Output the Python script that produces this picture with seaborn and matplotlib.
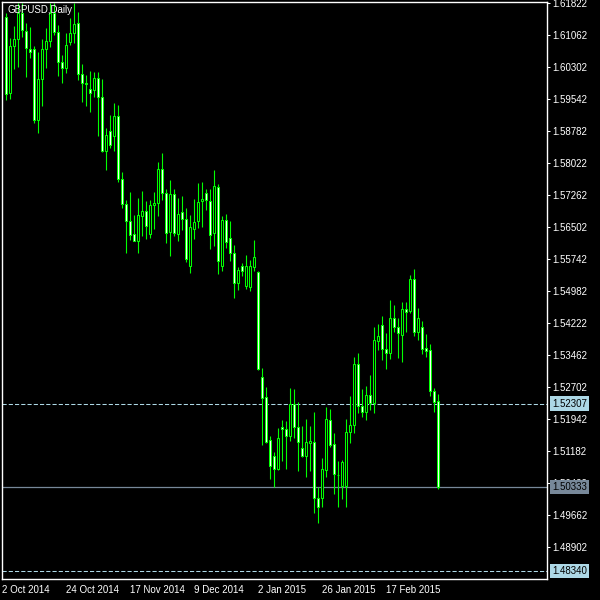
import numpy as np
import pandas as pd
import matplotlib
matplotlib.use("Agg")
import matplotlib.pyplot as plt
import seaborn as sns

# GBPUSD daily bars (one entry per bar)
opens = [1.6149, 1.5968, 1.6081, 1.6097, 1.6158, 1.6117, 1.6073, 1.6073, 1.5905, 1.6002,
         1.6073, 1.6092, 1.6158, 1.6115, 1.6042, 1.6028, 1.6091, 1.6111, 1.6135, 1.6014,
         1.5992, 1.5978, 1.5976, 1.6004, 1.5959, 1.5832, 1.5880, 1.5867, 1.5914, 1.5764,
         1.5705, 1.5665, 1.5634, 1.5618, 1.5678, 1.5690, 1.5634, 1.5703, 1.5707, 1.5789,
         1.5732, 1.5640, 1.5729, 1.5634, 1.5686, 1.5671, 1.5558, 1.5646, 1.5665, 1.5713,
         1.5731, 1.5713, 1.5636, 1.5745, 1.5559, 1.5667, 1.5624, 1.5588, 1.5519, 1.5558,
         1.5511, 1.5509, 1.5557, 1.5545, 1.5294, 1.5246, 1.5145, 1.5107, 1.5075, 1.5175,
         1.5170, 1.5155, 1.5230, 1.5177, 1.5125, 1.5108, 1.5139, 1.5140, 1.5007, 1.5007,
         1.5074, 1.5193, 1.5135, 1.5063, 1.5035, 1.5035, 1.5163, 1.5180, 1.5325, 1.5226,
         1.5212, 1.5251, 1.5234, 1.5381, 1.5417, 1.5360, 1.5351, 1.5434, 1.5413, 1.5394,
         1.5456, 1.5452, 1.5527, 1.5402, 1.5414, 1.5363, 1.5359, 1.5262, 1.5238]
highs = [1.6158, 1.6099, 1.6128, 1.6182, 1.6182, 1.6135, 1.6125, 1.6081, 1.6067, 1.6097,
         1.6123, 1.6182, 1.6182, 1.6131, 1.6059, 1.6111, 1.6147, 1.6182, 1.6162, 1.6038,
         1.6012, 1.6022, 1.6020, 1.6020, 1.6002, 1.5885, 1.5917, 1.5945, 1.5941, 1.5781,
         1.5715, 1.5735, 1.5679, 1.5720, 1.5736, 1.5713, 1.5715, 1.5734, 1.5806, 1.5827,
         1.5740, 1.5763, 1.5741, 1.5720, 1.5725, 1.5697, 1.5679, 1.5717, 1.5755, 1.5757,
         1.5742, 1.5742, 1.5786, 1.5753, 1.5677, 1.5682, 1.5665, 1.5608, 1.5556, 1.5566,
         1.5584, 1.5572, 1.5620, 1.5547, 1.5317, 1.5272, 1.5155, 1.5116, 1.5173, 1.5193,
         1.5190, 1.5268, 1.5265, 1.5235, 1.5178, 1.5196, 1.5178, 1.5212, 1.5033, 1.5102,
         1.5223, 1.5219, 1.5161, 1.5095, 1.5098, 1.5196, 1.5249, 1.5341, 1.5351, 1.5265,
         1.5273, 1.5299, 1.5413, 1.5420, 1.5440, 1.5399, 1.5477, 1.5466, 1.5434, 1.5473,
         1.5473, 1.5537, 1.5551, 1.5458, 1.5428, 1.5397, 1.5372, 1.5269, 1.5254]
lows = [1.5952, 1.5954, 1.6025, 1.6032, 1.6103, 1.6008, 1.6052, 1.5897, 1.5873, 1.5938,
        1.6028, 1.6079, 1.6107, 1.6010, 1.5994, 1.6016, 1.6083, 1.6087, 1.6000, 1.5948,
        1.5938, 1.5925, 1.5960, 1.5867, 1.5830, 1.5786, 1.5839, 1.5832, 1.5758, 1.5696,
        1.5590, 1.5620, 1.5617, 1.5588, 1.5630, 1.5622, 1.5625, 1.5646, 1.5677, 1.5715,
        1.5612, 1.5583, 1.5630, 1.5617, 1.5644, 1.5567, 1.5541, 1.5622, 1.5649, 1.5650,
        1.5691, 1.5599, 1.5606, 1.5539, 1.5546, 1.5601, 1.5570, 1.5483, 1.5501, 1.5534,
        1.5503, 1.5499, 1.5546, 1.5312, 1.5133, 1.5137, 1.5052, 1.5033, 1.5074, 1.5096,
        1.5075, 1.5143, 1.5149, 1.5072, 1.5104, 1.5056, 1.5072, 1.4971, 1.4949, 1.4987,
        1.5058, 1.5129, 1.5016, 1.4987, 1.5004, 1.4987, 1.5137, 1.5162, 1.5208, 1.5199,
        1.5193, 1.5216, 1.5208, 1.5359, 1.5335, 1.5314, 1.5337, 1.5402, 1.5340, 1.5331,
        1.5402, 1.5446, 1.5392, 1.5382, 1.5349, 1.5343, 1.5250, 1.5212, 1.5029]
closes = [1.5966, 1.6081, 1.6097, 1.6158, 1.6119, 1.6075, 1.6067, 1.5905, 1.6002, 1.6073,
          1.6092, 1.6158, 1.6115, 1.6042, 1.6028, 1.6083, 1.6111, 1.6133, 1.6014, 1.5992,
          1.5991, 1.5970, 1.6004, 1.5959, 1.5832, 1.5869, 1.5846, 1.5914, 1.5764, 1.5705,
          1.5666, 1.5632, 1.5618, 1.5679, 1.5690, 1.5654, 1.5703, 1.5707, 1.5789, 1.5732,
          1.5637, 1.5729, 1.5636, 1.5681, 1.5671, 1.5575, 1.5650, 1.5662, 1.5710, 1.5717,
          1.5715, 1.5631, 1.5748, 1.5571, 1.5667, 1.5616, 1.5588, 1.5519, 1.5548, 1.5547,
          1.5558, 1.5558, 1.5579, 1.5313, 1.5244, 1.5140, 1.5084, 1.5075, 1.5149, 1.5170,
          1.5155, 1.5230, 1.5177, 1.5141, 1.5107, 1.5140, 1.5143, 1.5007, 1.4987, 1.5075,
          1.5194, 1.5133, 1.5064, 1.5062, 1.5092, 1.5163, 1.5181, 1.5325, 1.5225, 1.5212,
          1.5251, 1.5234, 1.5382, 1.5392, 1.5360, 1.5351, 1.5434, 1.5413, 1.5398, 1.5456,
          1.5450, 1.5527, 1.5402, 1.5435, 1.5361, 1.5357, 1.5262, 1.5236, 1.50333]

date_labels = ["2 Oct 2014", "24 Oct 2014", "17 Nov 2014", "9 Dec 2014",
               "2 Jan 2015", "26 Jan 2015", "17 Feb 2015"]
date_bars = [0, 16, 32, 48, 64, 80, 96]

price_levels = [1.61822 - 0.0076 * k for k in range(18)]
dashed_levels = [1.52307, 1.48340]
bid_level = 1.50333

df = pd.DataFrame({"open": opens, "high": highs, "low": lows, "close": closes})
df["bar"] = np.arange(len(df))
df["bottom"] = df[["open", "close"]].min(axis=1)
df["height"] = (df["close"] - df["open"]).abs()
df["fill"] = np.where(df["close"] < df["open"], "white", "black")

sns.set_theme(style="dark", rc={"axes.facecolor": "black", "figure.facecolor": "black",
                                "axes.edgecolor": "white", "text.color": "white",
                                "xtick.color": "white", "ytick.color": "white",
                                "axes.grid": False})
plt.rcParams["font.family"] = ["Liberation Sans", "DejaVu Sans"]

fig = plt.figure(figsize=(6, 6), dpi=100)
ax = fig.add_axes([2 / 600, 21 / 600, 545 / 600, 577 / 600])

# price lines
for lv in dashed_levels:
    ax.axhline(lv, color="#add8e6", lw=0.75, ls=(0, (4, 2)), zorder=1.5)
ax.axhline(bid_level, color="#778899", lw=0.9, zorder=1.5)

# candles : wicks then bodies
ax.vlines(df["bar"], df["low"], df["high"], color="#00ff00", lw=0.8, zorder=2)
ax.bar(df["bar"], df["height"], bottom=df["bottom"], width=0.5, color=df["fill"],
       edgecolor="#00ff00", linewidth=0.75, zorder=3)

ax.set_xlim(-1, 135.25)
ax.set_ylim(1.48149, 1.61853)

for sp in ax.spines.values():
    sp.set_color("white")
    sp.set_linewidth(1)

ax.yaxis.tick_right()
ax.set_yticks(price_levels)
ax.set_yticklabels([f"{v:.5f}" for v in price_levels])
ax.tick_params(axis="y", length=2.2, width=0.75, pad=1.5, labelsize=7, colors="white")

ax.set_xticks([b - 0.9 for b in date_bars])
ax.set_xticklabels(date_labels, ha="left")
ax.tick_params(axis="x", length=2.5, width=0.75, pad=1.5, labelsize=7, colors="white")

trans = ax.get_yaxis_transform()
for lv in dashed_levels:
    ax.text(1.00917, lv, f"{lv:.5f}", transform=trans, ha="left", va="center", fontsize=7,
            color="black", clip_on=False, zorder=6,
            bbox=dict(boxstyle="square,pad=0.25", fc="#add8e6", ec="none"))
ax.text(1.00917, bid_level, f"{bid_level:.5f}", transform=trans, ha="left", va="center",
        fontsize=7, color="black", clip_on=False, zorder=6,
        bbox=dict(boxstyle="square,pad=0.25", fc="#778899", ec="none"))

ax.text(0.0092, 0.986, "GBPUSD,Daily", transform=ax.transAxes, ha="left", va="center",
        fontsize=7, color="white", zorder=6)

fig.savefig("out.png", dpi=100, facecolor="black")
